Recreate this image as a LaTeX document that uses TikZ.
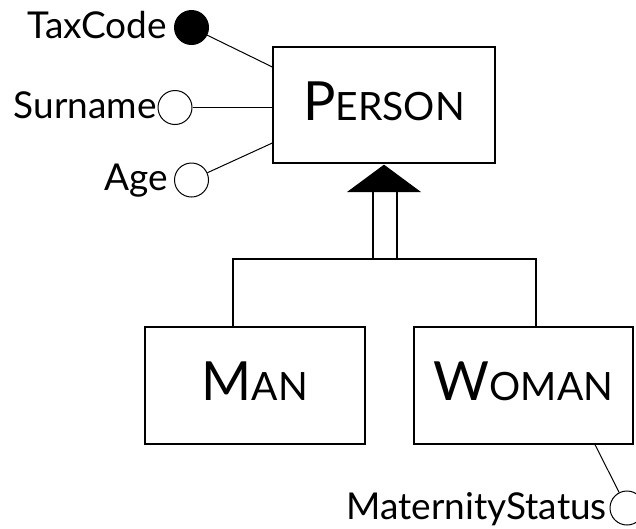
\documentclass[tikz,border=0pt]{standalone}
\usepackage{fontspec}
\setmainfont{Lato}
\newcommand\cname[2]{{\fontsize{54pt}{60pt}\selectfont #1}{\fontsize{39pt}{44pt}\selectfont #2}}
\tikzset{
  cls/.style={draw, line width=1.3pt, inner sep=0pt, text depth=8pt},
  attrtext/.style={inner sep=0pt, anchor=base east, font=\fontsize{37pt}{42pt}\selectfont},
  attrc/.style={circle, draw, line width=1pt, minimum size=34pt, inner sep=0pt, fill=white},
  keyc/.style={attrc, fill=black},
  attrline/.style={line width=1pt},
  isaline/.style={line width=1.3pt}
}
\begin{document}
\begin{tikzpicture}[x=1pt, y=-1pt]
\useasboundingbox (0,0) rectangle (636,528);
% entities
\node[cls, minimum width=222pt, minimum height=116pt] (person) at (384,105) {\cname{P}{ERSON}};
\node[cls, minimum width=220pt, minimum height=117pt] (man) at (255,385.5) {\cname{M}{AN}};
\node[cls, minimum width=219pt, minimum height=117pt] (woman) at (523.5,385.5) {\cname{W}{OMAN}};
% attributes of PERSON
\node[keyc] (tax) at (191.5,27.5) {};
\node[attrtext] (taxl) at (167,38) {TaxCode};
\node[attrc] (sur) at (175,107.5) {};
\node[attrtext] (surl) at (157,118) {Surname};
\node[attrc] (age) at (191.5,180) {};
\node[attrtext] (agel) at (168,190) {Age};
\draw[attrline] (tax) -- ([yshift=38pt]person.west);
\draw[attrline] (sur) -- (sur -| person.west);
\draw[attrline] (age) -- ([yshift=-38pt]person.west);
% attribute of WOMAN
\node[attrc] (mat) at (627,508) {};
\node[attrtext] (matl) at (607,519) {MaternityStatus};
\draw[attrline] ([xshift=71.5pt]woman.south) -- (mat);
% generalization
\coordinate (j) at (384,259);
\coordinate (shaftl) at (373,259);
\coordinate (shaftr) at (397,190);
\draw[isaline] ([xshift=-22pt]man.north) |- (j) -| ([xshift=12.5pt]woman.north);
\draw[isaline, fill=white] (shaftl) rectangle (shaftr);
\fill (person.south) ++(0,1) -- (421,192) -- (347,192) -- cycle;
\end{tikzpicture}
\end{document}
